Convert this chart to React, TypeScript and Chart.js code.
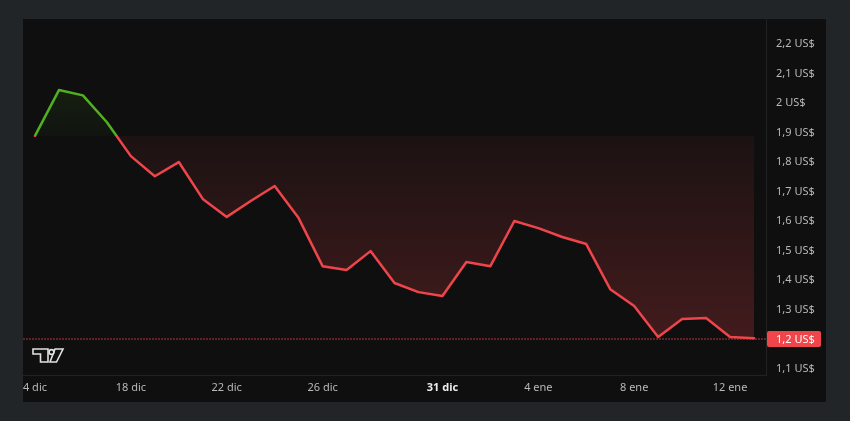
import React, { useEffect, useRef } from "react";
import { Chart, registerables } from "chart.js";

Chart.register(...registerables);

// ---- data ----
const categories = [
  "4 dic", "", "", "", "18 dic", "", "", "", "22 dic", "", "", "", "26 dic", "", "", "", "",
  "31 dic", "", "", "", "4 ene", "", "", "", "8 ene", "", "", "", "12 ene", "",
];
const prices = [
  1.889, 2.044, 2.026, 1.935, 1.82, 1.752, 1.8, 1.675, 1.614, 1.668, 1.719, 1.61, 1.447,
  1.434, 1.498, 1.39, 1.359, 1.346, 1.461, 1.447, 1.6, 1.576, 1.546, 1.522, 1.369, 1.312,
  1.207, 1.268, 1.271, 1.207, 1.203,
];
const yTicks = [1.1, 1.2, 1.3, 1.4, 1.5, 1.6, 1.7, 1.8, 1.9, 2.0, 2.1, 2.2];
const yMin = 1.078;
const yMax = 2.285;
const currentPrice = 1.2;
const boldTickLabel = "31 dic";

const baseline = prices[0];
const GREEN = "rgb(80,176,32)";
const RED = "rgb(239,68,74)";
const FONT = "'Noto Sans', sans-serif";

const fmtPrice = (v: number) =>
  (Math.round(v * 10) / 10).toString().replace(".", ",") + " US$";

function baseFrac(chart: any) {
  const area = chart.chartArea;
  const y = chart.scales.y;
  const py = y.getPixelForValue(baseline);
  return Math.min(1, Math.max(0, (py - area.top) / (area.bottom - area.top)));
}

function lineGradient(ctx: any) {
  const chart = ctx.chart;
  const area = chart.chartArea;
  if (!area || !chart.scales.y) return RED;
  const f = baseFrac(chart);
  const g = chart.ctx.createLinearGradient(0, area.top, 0, area.bottom);
  g.addColorStop(0, GREEN);
  g.addColorStop(f, GREEN);
  g.addColorStop(f, RED);
  g.addColorStop(1, RED);
  return g;
}

function fillGradient(ctx: any) {
  const chart = ctx.chart;
  const area = chart.chartArea;
  if (!area || !chart.scales.y) return "rgba(0,0,0,0)";
  const f = baseFrac(chart);
  const g = chart.ctx.createLinearGradient(0, area.top, 0, area.bottom);
  g.addColorStop(0, "rgba(80,176,32,0.2)");
  g.addColorStop(f, "rgba(80,176,32,0.03)");
  g.addColorStop(f, "rgba(239,68,74,0.06)");
  g.addColorStop(1, "rgba(239,68,74,0.26)");
  return g;
}

const noPad = (s: any) => {
  s.paddingTop = 0;
  s.paddingBottom = 0;
  s.paddingLeft = 0;
  s.paddingRight = 0;
};

const decorPlugin = {
  id: "decor",
  beforeDraw(chart: any) {
    const c = chart.ctx;
    c.save();
    c.fillStyle = "#0f0f0f";
    c.fillRect(0, 0, chart.width, chart.height);
    c.restore();
  },
  beforeDatasetsDraw(chart: any) {
    const c = chart.ctx;
    const area = chart.chartArea;
    const py = chart.scales.y.getPixelForValue(currentPrice);
    c.save();
    c.strokeStyle = "rgba(239,68,74,0.75)";
    c.lineWidth = 1;
    c.setLineDash([2, 1]);
    c.beginPath();
    c.moveTo(area.left, py);
    c.lineTo(area.right, py);
    c.stroke();
    c.restore();
  },
  afterDraw(chart: any) {
    const c = chart.ctx;
    const area = chart.chartArea;
    const py = chart.scales.y.getPixelForValue(currentPrice);
    // price label box
    c.save();
    c.fillStyle = "#f0454b";
    const bx = area.right + 1;
    const bw = 54;
    const bh = 16;
    c.beginPath();
    (c as any).roundRect(bx, py - bh / 2, bw, bh, 2);
    c.fill();
    c.fillStyle = "#ffffff";
    c.font = `11px ${FONT}`;
    c.textAlign = "left";
    c.textBaseline = "middle";
    c.fillText(fmtPrice(currentPrice), area.right + 10, py + 0.5);
    c.restore();

    // TradingView-like logo
    c.save();
    c.lineWidth = 1.6;
    c.strokeStyle = "#e2e2e2";
    c.fillStyle = "#111111";
    c.lineJoin = "miter";
    c.beginPath();
    c.moveTo(10, 330);
    c.lineTo(25, 330);
    c.lineTo(25, 343);
    c.lineTo(17.5, 343);
    c.lineTo(17.5, 335);
    c.lineTo(10, 335);
    c.closePath();
    c.fill();
    c.stroke();
    c.beginPath();
    c.moveTo(32, 330);
    c.lineTo(40, 330);
    c.lineTo(33.5, 343);
    c.lineTo(27, 343);
    c.closePath();
    c.fill();
    c.stroke();
    c.beginPath();
    c.arc(28.5, 333, 2.4, 0, Math.PI * 2);
    c.fill();
    c.stroke();
    c.restore();
  },
};

export default function App() {
  const ref = useRef<HTMLCanvasElement | null>(null);

  useEffect(() => {
    if (!ref.current) return;
    const chart = new Chart(ref.current, {
      type: "line",
      data: {
        labels: categories,
        datasets: [
          {
            data: prices,
            borderColor: lineGradient as any,
            backgroundColor: fillGradient as any,
            borderWidth: 2.5,
            tension: 0,
            pointRadius: 0,
            borderJoinStyle: "round",
            borderCapStyle: "round",
            fill: { value: baseline } as any,
          },
        ],
      },
      options: {
        responsive: false,
        devicePixelRatio: 1,
        animation: false,
        layout: { padding: 0 },
        plugins: {
          legend: { display: false },
          tooltip: { enabled: false },
        },
        scales: {
          x: {
            type: "category",
            offset: true,
            grid: { display: false, drawTicks: false },
            border: { display: true, color: "#222222", width: 1 },
            afterFit: (s: any) => {
              s.height = 27;
              noPad(s);
            },
            ticks: {
              autoSkip: false,
              maxRotation: 0,
              padding: 6,
              color: (ctx: any) =>
                categories[ctx.index] === boldTickLabel ? "#ececec" : "#b8b8b8",
              font: (ctx: any) => ({
                family: FONT,
                size: 11,
                weight: categories[ctx.index] === boldTickLabel ? "bold" : "normal",
              }),
            },
          },
          y: {
            position: "right",
            min: yMin,
            max: yMax,
            grid: { display: false, drawTicks: false },
            border: { display: true, color: "#222222", width: 1 },
            afterBuildTicks: (s: any) => {
              s.ticks = yTicks.map((v) => ({ value: v }));
            },
            afterFit: (s: any) => {
              s.width = 60;
              noPad(s);
            },
            ticks: {
              padding: 10,
              color: "#b8b8b8",
              font: { family: FONT, size: 11 },
              callback: (v: any) => fmtPrice(Number(v)),
            },
          },
        },
      },
      plugins: [decorPlugin],
    });
    return () => chart.destroy();
  }, []);

  return (
    <div
      style={{
        position: "fixed",
        left: 0,
        top: 0,
        width: 850,
        height: 421,
        background: "#222527",
      }}
    >
      <canvas
        ref={ref}
        width={803}
        height={383}
        style={{ position: "absolute", left: 23, top: 19, width: 803, height: 383 }}
      />
    </div>
  );
}
